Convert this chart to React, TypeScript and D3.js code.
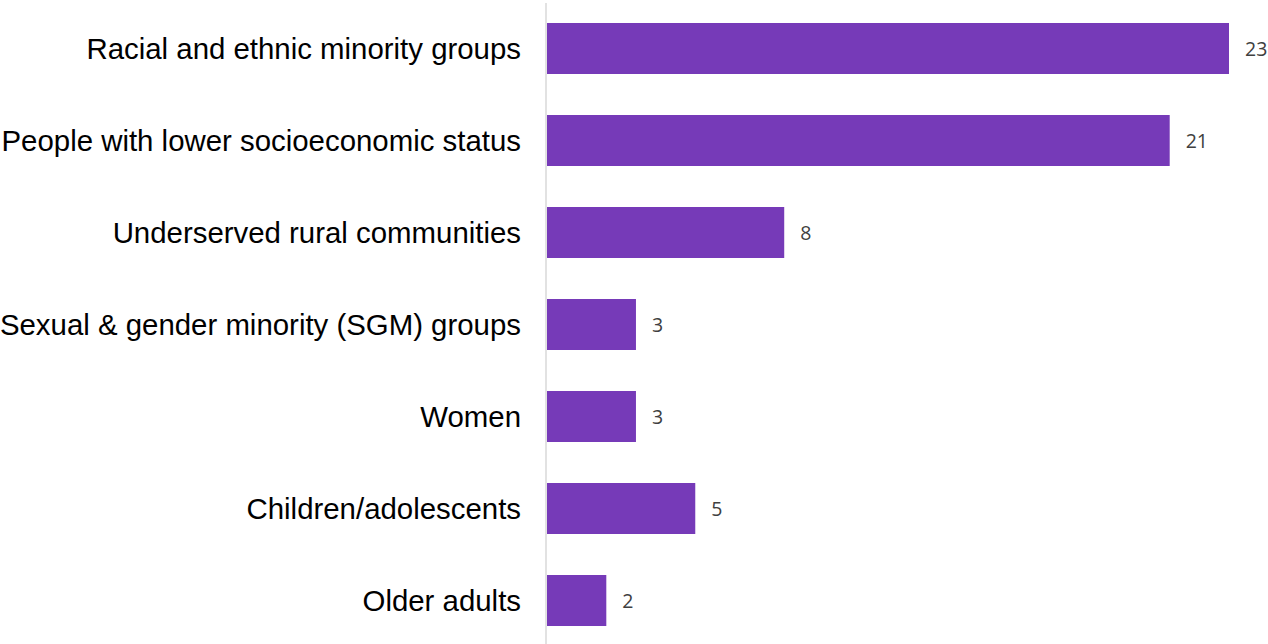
import { useEffect, useRef } from 'react';
import * as d3 from 'd3';

const categories = [
    'Racial and ethnic minority groups',
    'People with lower socioeconomic status',
    'Underserved rural communities',
    'Sexual & gender minority (SGM) groups',
    'Women',
    'Children/adolescents',
    'Older adults',
];

const counts = [23, 21, 8, 3, 3, 5, 2];

const WIDTH = 1268;
const HEIGHT = 644;
const BAR_COLOR = '#763ab8';

export default function App() {
    const svgRef = useRef<SVGSVGElement | null>(null);

    useEffect(() => {
        if (!svgRef.current) {
            return;
        }
        document.body.style.margin = '0';

        const svg = d3.select(svgRef.current);
        svg.selectAll('*').remove();

        const x = d3.scaleLinear().domain([0, 23]).range([547, 1229]);
        const y = d3.scaleBand<string>().domain(categories).range([2.5, 646.5]).paddingInner(0.4457).paddingOuter(0.2228);

        const rows = categories.map((name, index) => ({ name, value: counts[index] }));

        svg.append('g')
            .selectAll('rect')
            .data(rows)
            .join('rect')
            .attr('x', x(0))
            .attr('y', (row) => y(row.name) ?? 0)
            .attr('width', (row) => x(row.value) - x(0))
            .attr('height', y.bandwidth())
            .attr('fill', BAR_COLOR);

        svg.append('line')
            .attr('x1', x(0) - 1)
            .attr('x2', x(0) - 1)
            .attr('y1', 3)
            .attr('y2', HEIGHT)
            .attr('stroke', '#d9d9d9')
            .attr('stroke-width', 1.5);

        svg.append('g')
            .selectAll('text')
            .data(rows)
            .join('text')
            .text((row) => row.name)
            .attr('x', x(0) - 26)
            .attr('y', (row) => (y(row.name) ?? 0) + y.bandwidth() / 2)
            .attr('dy', '0.35em')
            .attr('text-anchor', 'end')
            .attr('font-family', '"Liberation Sans", Arial, sans-serif')
            .attr('font-size', 29.4)
            .attr('fill', '#000');

        svg.append('g')
            .selectAll('text')
            .data(rows)
            .join('text')
            .text((row) => String(row.value))
            .attr('x', (row) => x(row.value) + 16)
            .attr('y', (row) => (y(row.name) ?? 0) + y.bandwidth() / 2 + 1)
            .attr('dy', '0.35em')
            .attr('font-family', '"Open Sans", "Noto Sans", sans-serif')
            .attr('font-size', 19.5)
            .attr('fill', '#404040');
    }, []);

    return (
        <svg
            ref={svgRef}
            width={WIDTH}
            height={HEIGHT}
            viewBox={`0 0 ${WIDTH} ${HEIGHT}`}
            style={{ display: 'block', position: 'absolute', left: 0, top: 0, background: '#fff' }}
        />
    );
}
